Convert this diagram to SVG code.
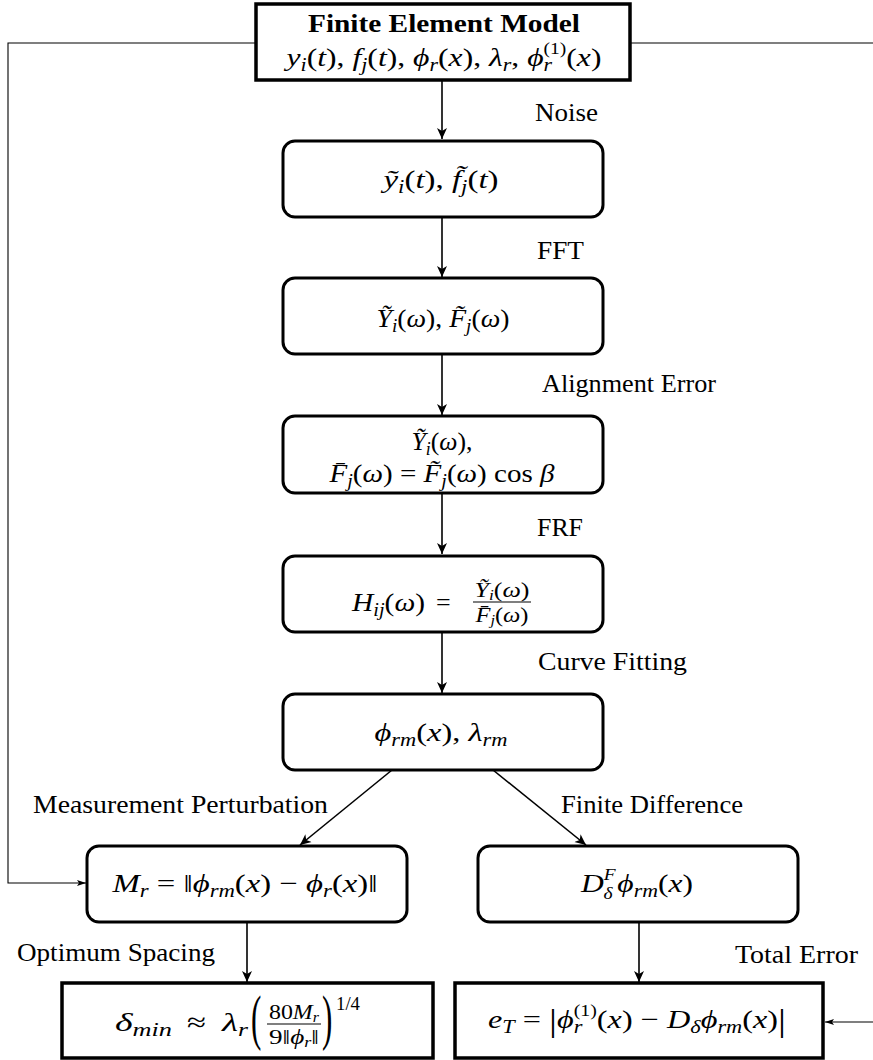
<svg xmlns="http://www.w3.org/2000/svg" width="873" height="1060" viewBox="0 0 873 1060">
<defs>
<style>
.lbl{font-family:"Liberation Serif","DejaVu Serif",serif;font-size:25px;fill:#000}
.ttl{font-size:26px;font-weight:bold}
.m{font-family:"Liberation Serif","DejaVu Serif",serif;font-size:26px;font-style:italic;fill:#000}
.u{font-style:normal}
.s{font-size:18px}
.sp{font-size:16px}
.fr{font-size:21px}
.fs{font-size:14px}
.big{font-size:62px}
.ex{font-size:18px}
.bar{font-size:32px}
.rb{fill:#fff;stroke:#000;stroke-width:3}
.sb{fill:#fff;stroke:#000;stroke-width:3.5}
.c{fill:none;stroke:#000;stroke-width:1.6}
.f{fill:none;stroke:#000;stroke-width:1.1}
.fl{stroke:#000;stroke-width:1.2}
</style>
<marker id="ah" markerUnits="userSpaceOnUse" markerWidth="12" markerHeight="12" refX="11" refY="6" orient="auto">
<path d="M0,1 L11,6 L0,11 L3,6 z" fill="#000"/>
</marker>
<marker id="as" markerUnits="userSpaceOnUse" markerWidth="10" markerHeight="8" refX="9" refY="4" orient="auto">
<path d="M0,1 L9,4 L0,7 L2,4 z" fill="#000"/>
</marker>
</defs>
<rect width="873" height="1060" fill="#fff"/>

<g id="connectors">
<polyline class="f" points="256,43 8,43 8,883 86,883" marker-end="url(#as)"/>
<line class="f" x1="630" y1="43" x2="873" y2="43"/>
<line class="f" x1="873" y1="1022" x2="825" y2="1022" marker-end="url(#as)"/>
<line class="c" x1="442" y1="80" x2="442" y2="139" marker-end="url(#ah)"/>
<line class="c" x1="442" y1="217" x2="442" y2="277" marker-end="url(#ah)"/>
<line class="c" x1="442" y1="355" x2="442" y2="415" marker-end="url(#ah)"/>
<line class="c" x1="442" y1="493" x2="442" y2="554" marker-end="url(#ah)"/>
<line class="c" x1="442" y1="632" x2="442" y2="693" marker-end="url(#ah)"/>
<line class="c" x1="392" y1="770" x2="300" y2="845" marker-end="url(#ah)"/>
<line class="c" x1="493" y1="770" x2="586" y2="845" marker-end="url(#ah)"/>
<line class="c" x1="247" y1="922" x2="247" y2="982" marker-end="url(#ah)"/>
<line class="c" x1="639" y1="922" x2="639" y2="982" marker-end="url(#ah)"/>
<text class="lbl" x="535" y="121" textLength="63" lengthAdjust="spacingAndGlyphs">Noise</text>
<text class="lbl" x="537" y="259" textLength="47" lengthAdjust="spacingAndGlyphs">FFT</text>
<text class="lbl" x="542" y="392" textLength="174" lengthAdjust="spacingAndGlyphs">Alignment Error</text>
<text class="lbl" x="537" y="536" textLength="46" lengthAdjust="spacingAndGlyphs">FRF</text>
<text class="lbl" x="538" y="670" textLength="149" lengthAdjust="spacingAndGlyphs">Curve Fitting</text>
<text class="lbl" x="33" y="813" textLength="295" lengthAdjust="spacingAndGlyphs">Measurement Perturbation</text>
<text class="lbl" x="561" y="813" textLength="182" lengthAdjust="spacingAndGlyphs">Finite Difference</text>
<text class="lbl" x="17" y="961" textLength="198" lengthAdjust="spacingAndGlyphs">Optimum Spacing</text>
<text class="lbl" x="735" y="963" textLength="123" lengthAdjust="spacingAndGlyphs">Total Error</text>
</g>

<g id="fem">
<rect class="sb" x="256" y="4" width="374" height="76"/>
<text class="lbl ttl" x="444" y="32" text-anchor="middle" textLength="272" lengthAdjust="spacingAndGlyphs">Finite Element Model</text>
<text class="m" x="444" y="66" text-anchor="middle" textLength="315" lengthAdjust="spacingAndGlyphs">y<tspan class="s" dy="5">i</tspan><tspan class="u" dy="-5">(</tspan>t<tspan class="u">), </tspan>f<tspan class="s" dy="5">j</tspan><tspan class="u" dy="-5">(</tspan>t<tspan class="u">), </tspan>ϕ<tspan class="s" dy="5">r</tspan><tspan class="u" dy="-5">(</tspan>x<tspan class="u">), </tspan>λ<tspan class="s" dy="5">r</tspan><tspan class="u" dy="-5">, </tspan>ϕ<tspan class="s" dy="5">r</tspan><tspan class="sp u" dx="-7" dy="-17">(1)</tspan><tspan class="u" dy="12">(</tspan>x<tspan class="u">)</tspan></text>
</g>

<g id="noisy">
<rect class="rb" x="283" y="141" width="320" height="76" rx="12"/>
<text class="m" x="441" y="188" text-anchor="middle" textLength="115" lengthAdjust="spacingAndGlyphs">ỹ<tspan class="s" dy="5">i</tspan><tspan class="u" dy="-5">(</tspan>t<tspan class="u">), </tspan>f̃<tspan class="s" dy="5">j</tspan><tspan class="u" dy="-5">(</tspan>t<tspan class="u">)</tspan></text>
</g>

<g id="fft">
<rect class="rb" x="283" y="278" width="320" height="76" rx="12"/>
<text class="m" x="443" y="327" text-anchor="middle" textLength="133" lengthAdjust="spacingAndGlyphs">Ỹ<tspan class="s" dy="5">i</tspan><tspan class="u" dy="-5">(</tspan>ω<tspan class="u">), </tspan>F̃<tspan class="s" dy="5">j</tspan><tspan class="u" dy="-5">(</tspan>ω<tspan class="u">)</tspan></text>
</g>

<g id="align">
<rect class="rb" x="283" y="416" width="320" height="77" rx="12"/>
<text class="m" x="442" y="450" text-anchor="middle" textLength="61" lengthAdjust="spacingAndGlyphs">Ỹ<tspan class="s" dy="5">i</tspan><tspan class="u" dy="-5">(</tspan>ω<tspan class="u">),</tspan></text>
<text class="m" x="442" y="482" text-anchor="middle" textLength="225" lengthAdjust="spacingAndGlyphs">F̄<tspan class="s" dy="5">j</tspan><tspan class="u" dy="-5">(</tspan>ω<tspan class="u">)  =  </tspan>F̃<tspan class="s" dy="5">j</tspan><tspan class="u" dy="-5">(</tspan>ω<tspan class="u">) cos </tspan>β</text>
</g>

<g id="frf">
<rect class="rb" x="283" y="556" width="320" height="76" rx="12"/>
<text class="m" x="352" y="611" textLength="73" lengthAdjust="spacingAndGlyphs">H<tspan class="s" dy="5">ij</tspan><tspan class="u" dy="-5">(</tspan>ω<tspan class="u">)</tspan></text>
<text class="m u" x="436" y="611">=</text>
<text class="m fr" x="502" y="597" text-anchor="middle" textLength="55" lengthAdjust="spacingAndGlyphs">Ỹ<tspan class="fs" dy="3">i</tspan><tspan class="u" dy="-3">(</tspan>ω<tspan class="u">)</tspan></text>
<line class="fl" x1="473" y1="602" x2="531" y2="602"/>
<text class="m fr" x="502" y="622" text-anchor="middle" textLength="53" lengthAdjust="spacingAndGlyphs">F̄<tspan class="fs" dy="3">j</tspan><tspan class="u" dy="-3">(</tspan>ω<tspan class="u">)</tspan></text>
</g>

<g id="fit">
<rect class="rb" x="283" y="694" width="320" height="76" rx="12"/>
<text class="m" x="441" y="741" text-anchor="middle" textLength="133" lengthAdjust="spacingAndGlyphs">ϕ<tspan class="s" dy="5">rm</tspan><tspan class="u" dy="-5">(</tspan>x<tspan class="u">), </tspan>λ<tspan class="s" dy="5">rm</tspan></text>
</g>

<g id="meas">
<rect class="rb" x="87" y="846" width="320" height="76" rx="12"/>
<text class="m" x="245" y="892" text-anchor="middle" textLength="265" lengthAdjust="spacingAndGlyphs">M<tspan class="s" dy="5">r</tspan><tspan class="u" dy="-5"> = ‖</tspan>ϕ<tspan class="s" dy="5">rm</tspan><tspan class="u" dy="-5">(</tspan>x<tspan class="u">) − </tspan>ϕ<tspan class="s" dy="5">r</tspan><tspan class="u" dy="-5">(</tspan>x<tspan class="u">)‖</tspan></text>
</g>

<g id="fd">
<rect class="rb" x="478" y="846" width="320" height="76" rx="12"/>
<text class="m" x="637" y="892" text-anchor="middle" textLength="112" lengthAdjust="spacingAndGlyphs">D<tspan class="sp" dy="-12">F</tspan><tspan class="sp" dx="-10" dy="19">δ</tspan><tspan dx="4" dy="-7">ϕ</tspan><tspan class="s" dy="5">rm</tspan><tspan class="u" dy="-5">(</tspan>x<tspan class="u">)</tspan></text>
</g>

<g id="opt">
<rect class="sb" x="62" y="983" width="371" height="75"/>
<text class="m" x="115" y="1031" textLength="57" lengthAdjust="spacingAndGlyphs">δ<tspan class="s" dy="5">min</tspan></text>
<text class="m u" x="187" y="1031" textLength="19" lengthAdjust="spacingAndGlyphs">≈</text>
<text class="m" x="222" y="1031" textLength="26" lengthAdjust="spacingAndGlyphs">λ<tspan class="s" dy="5">r</tspan></text>
<text class="lbl big" transform="translate(251,1038) scale(0.5,1)">(</text>
<text class="m fr" x="294" y="1019" text-anchor="middle" textLength="50" lengthAdjust="spacingAndGlyphs"><tspan class="u">80</tspan>M<tspan class="fs" dy="3">r</tspan></text>
<line class="fl" x1="267" y1="1024" x2="321" y2="1024"/>
<text class="m fr" x="294" y="1044" text-anchor="middle" textLength="50" lengthAdjust="spacingAndGlyphs"><tspan class="u">9‖</tspan>ϕ<tspan class="fs" dy="3">r</tspan><tspan class="u" dy="-3">‖</tspan></text>
<text class="lbl big" transform="translate(322,1038) scale(0.5,1)">)</text>
<text class="lbl ex" x="336" y="1010" textLength="24" lengthAdjust="spacingAndGlyphs">1/4</text>
</g>

<g id="total">
<rect class="sb" x="455" y="983" width="368" height="75"/>
<text class="m" x="637" y="1028" text-anchor="middle" textLength="298" lengthAdjust="spacingAndGlyphs">e<tspan class="s" dy="5">T</tspan><tspan class="u" dy="-5"> = </tspan><tspan class="u bar" dy="3">|</tspan><tspan dy="-3">ϕ</tspan><tspan class="s" dy="5">r</tspan><tspan class="sp u" dx="-7" dy="-17">(1)</tspan><tspan class="u" dy="12">(</tspan>x<tspan class="u">) − </tspan>D<tspan class="s" dy="5">δ</tspan><tspan dy="-5">ϕ</tspan><tspan class="s" dy="5">rm</tspan><tspan class="u" dy="-5">(</tspan>x<tspan class="u">)</tspan><tspan class="u bar" dy="3">|</tspan></text>
</g>
</svg>
